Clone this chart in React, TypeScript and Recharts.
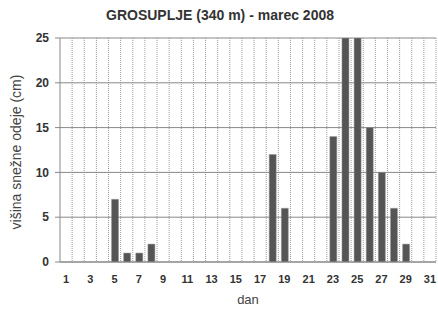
import { BarChart, Bar, XAxis, YAxis, CartesianGrid } from 'recharts';

// dan v mesecu (marec 2008)
const days = Array.from({ length: 31 }, (_, i) => String(i + 1));
// višina snežne odeje (cm), 0 = brez snega
const snow = [0, 0, 0, 0, 7, 1, 1, 2, 0, 0, 0, 0, 0, 0, 0, 0, 0, 12, 6, 0, 0, 0, 14, 25, 25, 15, 10, 6, 2, 0, 0];
const yTicks = [0, 5, 10, 15, 20, 25];

const chartData = days.map((d, i) => ({ dan: d, visina: snow[i] }));

const W = 438;
const H = 310;

export default function App() {
  return (
    <div style={{ position: 'relative', width: W, height: H, background: '#fff', fontFamily: '"Liberation Sans", Arial, sans-serif' }}>
      <style>{'body{margin:0}'}</style>
      <div style={{ position: 'absolute', top: 7, left: 20, width: 400, textAlign: 'center', fontSize: 14, fontWeight: 'bold', color: '#333' }}>
        GROSUPLJE (340 m) - marec 2008
      </div>
      <div
        style={{
          position: 'absolute',
          left: 16,
          top: 152,
          transform: 'translate(-50%, -50%) rotate(-90deg)',
          whiteSpace: 'nowrap',
          fontSize: 14,
          color: '#444',
        }}
      >
        višina snežne odeje (cm)
      </div>
      <div style={{ position: 'absolute', top: 292, left: 60, width: 376, textAlign: 'center', fontSize: 13, color: '#444' }}>
        dan
      </div>
      <BarChart
        width={W}
        height={H}
        data={chartData}
        margin={{ top: 38, right: 2, bottom: 0, left: 0 }}
        barSize={7}
        style={{ position: 'absolute', top: 0, left: 0 }}
      >
        <CartesianGrid
          stroke="#999"
          horizontal={false}
          strokeDasharray="1 1"
          verticalCoordinatesGenerator={({ offset }: any) =>
            days.map((_, i) => offset.left + ((i + 1) * offset.width) / days.length)
          }
        />
        <CartesianGrid stroke="#888" vertical={false} />
        <XAxis
          dataKey="dan"
          interval={1}
          height={48}
          tickLine={false}
          axisLine={{ stroke: '#888' }}
          tick={{ fontSize: 11, fontWeight: 'bold', fill: '#333' }}
          tickMargin={7}
        />
        <YAxis
          width={60}
          domain={[0, 25]}
          ticks={yTicks}
          allowDataOverflow
          tickSize={5}
          tickLine={{ stroke: '#888' }}
          axisLine={{ stroke: '#888' }}
          tick={{ fontSize: 12, fontWeight: 'bold', fill: '#333' }}
          tickMargin={6}
        />
        <Bar dataKey="visina" fill="#555" stroke="#999" strokeWidth={0.5} isAnimationActive={false} />
      </BarChart>
    </div>
  );
}
